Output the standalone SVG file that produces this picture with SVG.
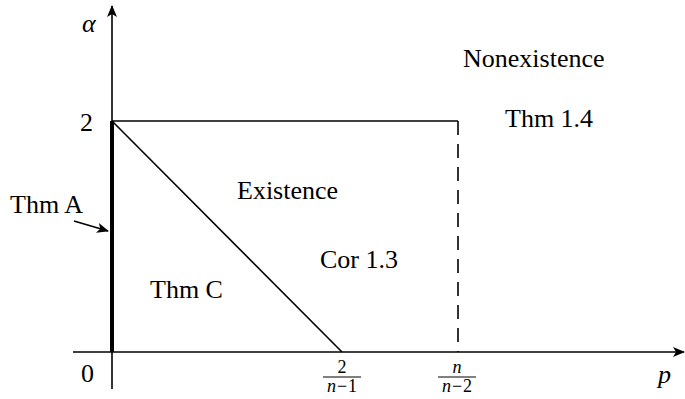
<svg xmlns="http://www.w3.org/2000/svg" width="685" height="399" viewBox="0 0 685 399" font-family="'Liberation Serif', 'DejaVu Serif', serif">
<style>
text{font-family:"Liberation Serif","DejaVu Serif",serif;fill:#000}
.lbl{font-size:26px}
.it{font-style:italic}
.ln{stroke:#000;stroke-width:1.6;fill:none}
</style>
<defs>
<marker id="ah" viewBox="0 0 12 10" refX="11" refY="5" markerWidth="12" markerHeight="10" markerUnits="userSpaceOnUse" orient="auto">
<path d="M0,0 L12,5 L0,10 L3,5 Z" fill="#000"/>
</marker>
</defs>
<rect width="685" height="399" fill="#fff"/>
<g id="connectors">
<line class="ln" x1="112" y1="389" x2="112" y2="6" marker-end="url(#ah)"/>
<line class="ln" x1="73" y1="352" x2="684" y2="352" marker-end="url(#ah)"/>
<line class="ln" x1="112" y1="121" x2="458" y2="121"/>
<line class="ln" x1="458" y1="121" x2="458" y2="352" stroke-dasharray="14,9"/>
<line class="ln" x1="112" y1="121" x2="342" y2="352"/>
<line x1="112" y1="121" x2="112" y2="352" stroke="#000" stroke-width="4"/>
<line class="ln" x1="74" y1="221" x2="108" y2="231" marker-end="url(#ah)"/>
</g>
<g id="axis-labels">
<text class="lbl it" x="82" y="32">α</text>
<text class="lbl" x="80" y="131">2</text>
<text class="lbl" x="81" y="382">0</text>
<text class="lbl it" x="658" y="383">p</text>
</g>
<g id="tick-2-over-n-1" font-size="18">
<text x="342" y="373" text-anchor="middle">2</text>
<line x1="323" y1="377" x2="361" y2="377" stroke="#000" stroke-width="1"/>
<text x="342" y="392" text-anchor="middle"><tspan class="it">n</tspan><tspan dx="1">−</tspan><tspan dx="1">1</tspan></text>
</g>
<g id="tick-n-over-n-2" font-size="18">
<text x="457" y="373" text-anchor="middle" class="it">n</text>
<line x1="438" y1="377" x2="476" y2="377" stroke="#000" stroke-width="1"/>
<text x="457" y="392" text-anchor="middle"><tspan class="it">n</tspan><tspan dx="1">−</tspan><tspan dx="1">2</tspan></text>
</g>
<g id="region-labels">
<text class="lbl" x="463" y="67">Nonexistence</text>
<text class="lbl" x="505" y="127">Thm 1.4</text>
<text class="lbl" x="237" y="199">Existence</text>
<text class="lbl" x="320" y="268">Cor 1.3</text>
<text class="lbl" x="150" y="298">Thm C</text>
<text class="lbl" x="10" y="213">Thm A</text>
</g>
</svg>
